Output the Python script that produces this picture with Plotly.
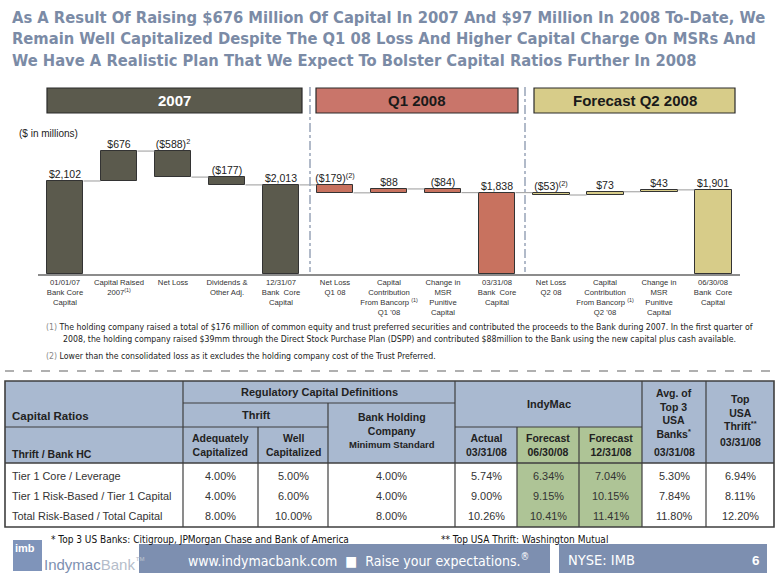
import plotly.graph_objects as go

# ---------------- data ----------------
categories = [
    "01/01/07<br>Bank Core<br>Capital",
    "Capital Raised<br>2007<sup>(1)</sup>",
    "Net Loss",
    "Dividends &<br>Other Adj.",
    "12/31/07<br>Bank  Core<br>Capital",
    "Net Loss<br>Q1 08",
    "Capital<br>Contribution<br>From Bancorp <sup>(1)</sup><br>Q1 '08",
    "Change in<br>MSR<br>Punitive<br>Capital",
    "03/31/08<br>Bank  Core<br>Capital",
    "Net Loss<br>Q2 08",
    "Capital<br>Contribution<br>From Bancorp <sup>(1)</sup><br>Q2 '08",
    "Change in<br>MSR<br>Punitive<br>Capital",
    "06/30/08<br>Bank  Core<br>Capital",
]
values = [2102, 676, -588, -177, 2013, -179, 88, -84, 1838, -53, 73, 43, 1901]
measures = ["total", "relative", "relative", "relative", "total",
            "relative", "relative", "relative", "total",
            "relative", "relative", "relative", "total"]
periods = ["2007"] * 5 + ["Q1"] * 4 + ["Q2"] * 4
label_notes = ["", "", "2", "", "", "(2)", "", "", "", "(2)", "", "", ""]

period_names = ["2007", "Q1 2008", "Forecast Q2 2008"]

row_labels = ["Tier 1 Core / Leverage", "Tier 1 Risk-Based / Tier 1 Capital",
              "Total Risk-Based / Total Capital"]
adequately = ["4.00%", "4.00%", "8.00%"]
well_cap = ["5.00%", "6.00%", "10.00%"]
bhc_min = ["4.00%", "4.00%", "8.00%"]
actual_0331 = ["5.74%", "9.00%", "10.26%"]
fcst_0630 = ["6.34%", "9.15%", "10.41%"]
fcst_1231 = ["7.04%", "10.15%", "11.41%"]
avg_top3 = ["5.30%", "7.84%", "11.80%"]
top_thrift = ["6.94%", "8.11%", "12.20%"]

# ---------------- style ----------------
W, H = 780, 587
def px(x): return x / W
def py(y): return 1 - y / H

ARIAL = "Liberation Sans, Arial, sans-serif"
NARROW = "Liberation Sans Narrow, Arial Narrow, DejaVu Sans Condensed, sans-serif"
fill = {"2007": "#5b5a4d", "Q1": "#c8725f", "Q2": "#d7cc89"}
head_fill = ["#5b5a4d", "#c9756a", "#d7cc89"]
head_font = ["white", "#1a1a1a", "#1a1a1a"]
TITLE_C = "#7b8ba6"
BLUE_H = "#a9b9d0"
GREEN = "#aec496"
LINE_C = "#3f3f3f"

# ---------------- waterfall geometry from data ----------------
bases, heights, tops, levels = [], [], [], []
level = 0
for v, m in zip(values, measures):
    if m == "total":
        b, h = 0, v
        level = v
    else:
        b, h = level, v
        level = level + v
    bases.append(b)
    heights.append(h)
    tops.append(max(b, b + h))
    levels.append(level)

def fmt(v):
    s = "${:,}".format(abs(v))
    return "(" + s + ")" if v < 0 else s

labels = [fmt(v) + ("<sup>" + n + "</sup>" if n else "") for v, n in zip(values, label_notes)]
xs = list(range(len(values)))
BW = 0.685

fig = go.Figure()
fig.add_trace(go.Bar(
    x=xs, y=heights, base=bases, width=BW,
    marker=dict(color=[fill[p] for p in periods], line=dict(color="#333333", width=1)),
    showlegend=False, hoverinfo="skip"))

# connectors
cx, cy = [], []
for i in range(len(values) - 1):
    cx += [i + BW / 2, i + 1 - BW / 2, None]
    cy += [levels[i], levels[i], None]
fig.add_trace(go.Scatter(x=cx, y=cy, mode="lines", line=dict(color="#9a9a9a", width=1),
                         showlegend=False, hoverinfo="skip"))
fig.add_trace(go.Scatter(x=xs, y=tops, mode="text", text=labels, textposition="top center",
                         textfont=dict(family=ARIAL, size=10.5, color="#222222"),
                         cliponaxis=False, showlegend=False, hoverinfo="skip"))

Y0, Y1 = 274, 140
scale = 0.04425
fig.update_layout(
    width=W, height=H, autosize=False,
    margin=dict(l=0, r=0, t=0, b=0),
    paper_bgcolor="white", plot_bgcolor="white",
    bargap=0,
    xaxis=dict(domain=[px(38), px(740)], range=[-0.5, 12.5],
               tickmode="array", tickvals=xs, ticktext=categories,
               tickfont=dict(family=ARIAL, size=7.7, color="#333333"),
               showline=True, linecolor="#8c8c8c", linewidth=1.5,
               showgrid=False, zeroline=False, ticks="", fixedrange=True),
    yaxis=dict(domain=[py(Y0), py(Y1)], range=[0, (Y0 - Y1) / scale],
               visible=False, showgrid=False, zeroline=False, fixedrange=True),
)

shapes, ann = [], []

# period header boxes
hdr = [(47, 302), (316, 518), (534, 735)]
for (x0, x1), name, fc, tc in zip(hdr, period_names, head_fill, head_font):
    shapes.append(dict(type="rect", xref="paper", yref="paper",
                       x0=px(x0), x1=px(x1), y0=py(113), y1=py(88),
                       fillcolor=fc, line=dict(color="#2a2a2a", width=1.2)))
    ann.append(dict(x=px((x0 + x1) / 2), y=py(100.5), xref="paper", yref="paper",
                    text="<b>" + name + "</b>", showarrow=False,
                    font=dict(family=ARIAL, size=15, color=tc),
                    xanchor="center", yanchor="middle"))
for xd in (310, 525):
    shapes.append(dict(type="line", xref="paper", yref="paper",
                       x0=px(xd), x1=px(xd), y0=py(87), y1=py(272),
                       line=dict(color="#98a4b8", width=1.5, dash="dashdot")))

ann.append(dict(x=px(17), y=py(134), xref="paper", yref="paper", text="($ in millions)",
                showarrow=False, xanchor="left", yanchor="middle",
                font=dict(family=ARIAL, size=10, color="#222222")))

# title
title = ("As A Result Of Raising $676 Million Of Capital In 2007 And $97 Million In 2008 To-Date, We<br>"
         "Remain Well Capitalized Despite The Q1 08 Loss And Higher Capital Charge On MSRs And<br>"
         "We Have A Realistic Plan That We Expect To Bolster Capital Ratios Further In 2008")
ann.append(dict(x=px(10), y=py(6), xref="paper", yref="paper", text="<b>" + title + "</b>",
                showarrow=False, xanchor="left", yanchor="top", align="left",
                font=dict(family=NARROW, size=16.4, color=TITLE_C)))

# footnotes
fn_font = dict(family=NARROW, size=8.7, color="#222222")
ann.append(dict(x=px(44), y=py(327), xref="paper", yref="paper", showarrow=False,
                xanchor="left", yanchor="middle", font=fn_font,
                text="<span style='color:#888'>(1)</span> The holding company raised a total of $176 million of common equity and trust preferred securities and contributed the proceeds to the Bank during 2007. In the first quarter of"))
ann.append(dict(x=px(61), y=py(339), xref="paper", yref="paper", showarrow=False,
                xanchor="left", yanchor="middle", font=fn_font,
                text="2008, the holding company raised $39mm through the Direct Stock Purchase Plan (DSPP) and contributed $88million to the Bank using the new capital plus cash available."))
ann.append(dict(x=px(44), y=py(356), xref="paper", yref="paper", showarrow=False,
                xanchor="left", yanchor="middle", font=fn_font,
                text="<span style='color:#888'>(2)</span> Lower than the consolidated loss as it excludes the holding company cost of the Trust Preferred."))
shapes.append(dict(type="line", xref="paper", yref="paper", x0=px(5), x1=px(775),
                   y0=py(371), y1=py(371), line=dict(color="#b0b0b0", width=2, dash="dash")))

# ---------------- table ----------------
T_TOP, T_BOT = 381, 527
colx = [5, 183, 258, 328, 455, 517, 579, 642, 706, 774]
r1, r2, r3 = 403, 427, 463

def rect(x0, y0, x1, y1, color):
    shapes.append(dict(type="rect", xref="paper", yref="paper", x0=px(x0), x1=px(x1),
                       y0=py(y1), y1=py(y0), fillcolor=color, line=dict(width=0), layer="below"))

def hline(x0, x1, y, w=1.2):
    shapes.append(dict(type="line", xref="paper", yref="paper", x0=px(x0), x1=px(x1),
                       y0=py(y), y1=py(y), line=dict(color=LINE_C, width=w)))

def vline(x, y0, y1, w=1.2):
    shapes.append(dict(type="line", xref="paper", yref="paper", x0=px(x), x1=px(x),
                       y0=py(y0), y1=py(y1), line=dict(color=LINE_C, width=w)))

def txt(x, y, s, size=10.5, bold=False, anchor="center", color="#222222", family=ARIAL):
    ann.append(dict(x=px(x), y=py(y), xref="paper", yref="paper", showarrow=False,
                    text=("<b>" + s + "</b>") if bold else s, align=anchor if anchor != "center" else "center",
                    xanchor=anchor, yanchor="middle",
                    font=dict(family=family, size=size, color=color)))

rect(colx[0], T_TOP, colx[-1], r3, BLUE_H)
rect(colx[5], r2, colx[7], r3, GREEN)
rect(colx[5], r3, colx[7], T_BOT, GREEN)

hline(colx[1], colx[4], r1)
hline(colx[0], colx[3], r2)
hline(colx[4], colx[7], r2)
hline(colx[0], colx[-1], r3, 1.6)
vline(colx[1], T_TOP, T_BOT)
vline(colx[2], r2, T_BOT)
vline(colx[3], r1, T_BOT)
vline(colx[4], T_TOP, T_BOT)
vline(colx[5], r2, T_BOT)
vline(colx[6], r2, T_BOT)
vline(colx[7], T_TOP, T_BOT)
vline(colx[8], T_TOP, T_BOT)
shapes.append(dict(type="rect", xref="paper", yref="paper", x0=px(colx[0]), x1=px(colx[-1]),
                   y0=py(T_BOT), y1=py(T_TOP), line=dict(color=LINE_C, width=1.6)))

txt(10, 416, "Capital Ratios", 11.5, True, "left")
txt(10, 454, "Thrift / Bank HC", 10.5, True, "left")
txt((colx[1] + colx[4]) / 2, 392, "Regulatory Capital Definitions", 11, True)
txt((colx[1] + colx[3]) / 2, 415, "Thrift", 11, True)
txt((colx[3] + colx[4]) / 2, 430, "Bank Holding<br>Company<br><span style='font-size:9.5px'>Minimum Standard</span>", 10.5, True)
txt((colx[4] + colx[7]) / 2, 404, "IndyMac", 11, True)
txt((colx[1] + colx[2]) / 2, 445, "Adequately<br>Capitalized", 10.5, True)
txt((colx[2] + colx[3]) / 2, 445, "Well<br>Capitalized", 10.5, True)
txt((colx[4] + colx[5]) / 2, 445, "Actual<br>03/31/08", 10.5, True)
txt((colx[5] + colx[6]) / 2, 445, "Forecast<br>06/30/08", 10.5, True)
txt((colx[6] + colx[7]) / 2, 445, "Forecast<br>12/31/08", 10.5, True)
txt((colx[7] + colx[8]) / 2, 413, "Avg. of<br>Top 3<br>USA<br>Banks<sup>*</sup>", 10.5, True)
txt((colx[7] + colx[8]) / 2, 452, "03/31/08", 10.5, True)
txt((colx[8] + colx[9]) / 2, 412, "Top<br>USA<br>Thrift<sup>**</sup>", 10.5, True)
txt((colx[8] + colx[9]) / 2, 442, "03/31/08", 10.5, True)

row_y = [476, 496, 516]
cols_data = [adequately, well_cap, bhc_min, actual_0331, fcst_0630, fcst_1231, avg_top3, top_thrift]
for ri, ry in enumerate(row_y):
    txt(10, ry, row_labels[ri], 10.9, False, "left", "#333333")
    for ci, col in enumerate(cols_data):
        txt((colx[ci + 1] + colx[ci + 2]) / 2, ry, col[ri], 10.9, False, "center", "#333333")

# footer
txt(49, 539, "* Top 3 US Banks: Citigroup, JPMorgan Chase and Bank of America", 10, False, "left", "#111111", NARROW)
txt(439, 539, "** Top USA Thrift: Washington Mutual", 10, False, "left", "#111111", NARROW)
FOOT = "#7d8fb0"
for x0, x1 in [(139, 550), (559, 767)]:
    shapes.append(dict(type="rect", xref="paper", yref="paper", x0=px(x0), x1=px(x1),
                       y0=py(573), y1=py(544), fillcolor=FOOT, line=dict(width=0)))
shapes.append(dict(type="rect", xref="paper", yref="paper", x0=px(13), x1=px(42),
                   y0=py(571), y1=py(540), fillcolor="#7f94ba", line=dict(width=0)))
txt(13, 548, "imb", 11, True, "left", "white")
txt(42, 563, "<span style='color:#7d8fb0'>Indymac</span><span style='color:#b5bdca'>Bank</span><sup style='color:#b5bdca'>™</sup>", 15, False, "left", "#7d8fb0")
txt(186, 560, "www.indymacbank.com  ■  Raise your expectations.<sup>®</sup>", 14, False, "left", "white", NARROW)
txt(566, 560, "NYSE: IMB", 14.5, False, "left", "white", NARROW)
txt(756, 560, "6", 13.5, True, "center", "white")

fig.update_layout(shapes=shapes, annotations=ann)
fig.write_html("out.html", config={"displayModeBar": False},
               post_script="document.body.style.margin='0px';document.body.style.padding='0px';document.body.style.overflow='hidden';")
